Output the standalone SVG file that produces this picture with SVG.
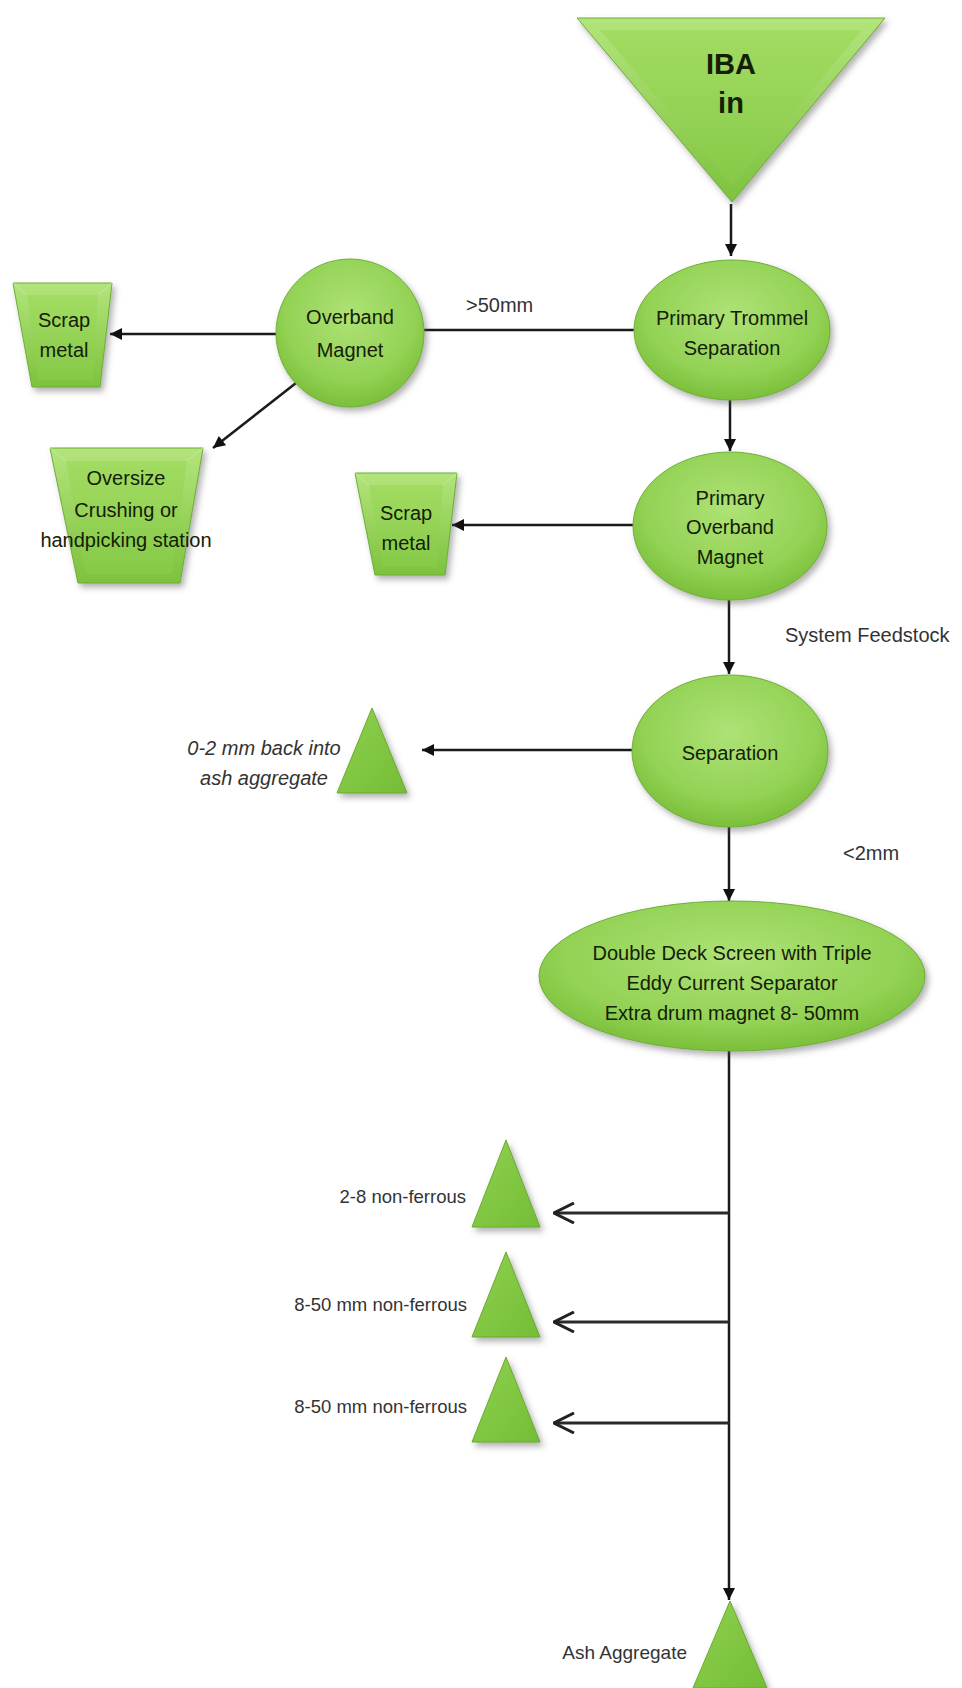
<svg xmlns="http://www.w3.org/2000/svg" width="962" height="1688" viewBox="0 0 962 1688">
<defs>
<linearGradient id="gLin" x1="0" y1="0" x2="0" y2="1">
<stop offset="0" stop-color="#b3e47c"/>
<stop offset="1" stop-color="#7dc23d"/>
</linearGradient>
<linearGradient id="gFace" x1="0" y1="0" x2="0" y2="1">
<stop offset="0" stop-color="#a2dc62"/>
<stop offset="1" stop-color="#86c948"/>
</linearGradient>
<radialGradient id="gRad" cx="0.5" cy="0.38" r="0.62">
<stop offset="0" stop-color="#aee276"/>
<stop offset="0.7" stop-color="#93d255"/>
<stop offset="1" stop-color="#7bbf3a"/>
</radialGradient>
<linearGradient id="gTri" x1="0" y1="0" x2="1" y2="1">
<stop offset="0" stop-color="#8fd14f"/>
<stop offset="1" stop-color="#74bd36"/>
</linearGradient>
<filter id="sh" x="-20%" y="-20%" width="150%" height="150%">
<feDropShadow dx="3" dy="4" stdDeviation="3" flood-color="#555" flood-opacity="0.45"/>
</filter>
<marker id="aF" viewBox="0 0 10 10" refX="10" refY="5" markerWidth="14" markerHeight="12" markerUnits="userSpaceOnUse" orient="auto">
<path d="M0,0 L10,5 L0,10 z" fill="#111"/>
</marker>
<marker id="aO" viewBox="0 0 22 22" refX="21" refY="11" markerWidth="22" markerHeight="22" markerUnits="userSpaceOnUse" orient="auto">
<path d="M1,1 L21,11 L1,21" fill="none" stroke="#222" stroke-width="3"/>
</marker>
<style>
.shape{fill:url(#gLin);stroke:#6fae36;stroke-width:1;filter:url(#sh)}
.ell{fill:url(#gRad);stroke:#6fae36;stroke-width:1;filter:url(#sh)}
.tri{fill:url(#gTri);stroke:#6aaa30;stroke-width:1;filter:url(#sh)}
.face{fill:url(#gFace);stroke:none}
.facet{stroke:#c6ef9c;stroke-width:1;fill:none;opacity:0.8}
.nt{font-family:"Liberation Sans",Arial,sans-serif;font-size:20px;fill:#142006;text-anchor:middle}
.lb{font-family:"Liberation Sans",Arial,sans-serif;font-size:20px;fill:#333}
.sm{font-family:"Liberation Sans",Arial,sans-serif;font-size:18.5px;fill:#333;text-anchor:end}
.cn{stroke:#1a1a1a;stroke-width:2.5;fill:none}
.cnF{stroke:#1a1a1a;stroke-width:2.5;fill:none;marker-end:url(#aF)}
.cnO{stroke:#2a2a2a;stroke-width:3;fill:none;marker-end:url(#aO)}
</style>
</defs>
<rect width="962" height="1688" fill="#ffffff"/>

<g id="connectors">
<line class="cnF" x1="731" y1="204" x2="731" y2="256"/>
<line class="cn" x1="634" y1="330" x2="424" y2="330"/>
<text class="lb" x="466" y="312">&gt;50mm</text>
<line class="cnF" x1="276" y1="334" x2="110" y2="334"/>
<line class="cnF" x1="296" y1="383" x2="213" y2="448"/>
<line class="cnF" x1="730" y1="400" x2="730" y2="451"/>
<line class="cnF" x1="634" y1="525" x2="452" y2="525"/>
<line class="cnF" x1="729" y1="600" x2="729" y2="674"/>
<text class="lb" x="785" y="642">System Feedstock</text>
<line class="cnF" x1="632" y1="750" x2="422" y2="750"/>
<line class="cnF" x1="729" y1="827" x2="729" y2="901"/>
<text class="lb" x="843" y="860">&lt;2mm</text>
<line class="cnF" x1="729" y1="1051" x2="729" y2="1600"/>
<line class="cnO" x1="729" y1="1213" x2="554" y2="1213"/>
<line class="cnO" x1="729" y1="1322" x2="554" y2="1322"/>
<line class="cnO" x1="729" y1="1423" x2="554" y2="1423"/>
</g>

<g id="iba-in">
<polygon class="shape" points="577,18 885,18 732,202"/>
<polygon class="face" points="600,30 862,30 732,186"/>
<text class="nt" x="731" y="74" style="font-weight:bold;font-size:29px">IBA</text>
<text class="nt" x="731" y="113" style="font-weight:bold;font-size:29px">in</text>
</g>

<g id="primary-trommel">
<ellipse class="ell" cx="732" cy="330" rx="98" ry="70"/>
<text class="nt" x="732" y="325">Primary Trommel</text>
<text class="nt" x="732" y="355">Separation</text>
</g>

<g id="overband-magnet">
<circle class="ell" cx="350" cy="333" r="74"/>
<text class="nt" x="350" y="324">Overband</text>
<text class="nt" x="350" y="357">Magnet</text>
</g>

<g id="scrap-metal-1">
<polygon class="shape" points="13,283 112,283 100,387 32,387"/>
<polygon class="face" points="27,295 98,295 93,380 39,380"/>
<path class="facet" d="M13,283 L27,295 M112,283 L98,295"/>
<text class="nt" x="64" y="327">Scrap</text>
<text class="nt" x="64" y="357">metal</text>
</g>

<g id="oversize">
<polygon class="shape" points="50,448 203,448 180,583 78,583"/>
<polygon class="face" points="66,461 187,461 172,574 86,574"/>
<path class="facet" d="M50,448 L66,461 M203,448 L187,461"/>
<text class="nt" x="126" y="485">Oversize</text>
<text class="nt" x="126" y="517">Crushing or</text>
<text class="nt" x="126" y="547">handpicking station</text>
</g>

<g id="scrap-metal-2">
<polygon class="shape" points="355,473 457,473 445,575 375,575"/>
<polygon class="face" points="369,485 443,485 437,567 383,567"/>
<path class="facet" d="M355,473 L369,485 M457,473 L443,485"/>
<text class="nt" x="406" y="520">Scrap</text>
<text class="nt" x="406" y="550">metal</text>
</g>

<g id="primary-overband-magnet">
<ellipse class="ell" cx="730" cy="526" rx="97" ry="74"/>
<text class="nt" x="730" y="505">Primary</text>
<text class="nt" x="730" y="534">Overband</text>
<text class="nt" x="730" y="564">Magnet</text>
</g>

<g id="separation">
<ellipse class="ell" cx="730" cy="751" rx="98" ry="76"/>
<text class="nt" x="730" y="760">Separation</text>
</g>

<g id="fines-0-2">
<polygon class="tri" points="372,708 407,793 337,793"/>
<text class="lb" x="264" y="755" text-anchor="middle" font-style="italic">0-2 mm back into</text>
<text class="lb" x="264" y="785" text-anchor="middle" font-style="italic">ash aggregate</text>
</g>

<g id="double-deck">
<ellipse class="ell" cx="732" cy="976" rx="193" ry="75"/>
<text class="nt" x="732" y="960">Double Deck Screen with Triple</text>
<text class="nt" x="732" y="990">Eddy Current Separator</text>
<text class="nt" x="732" y="1020">Extra drum magnet 8- 50mm</text>
</g>

<g id="nf-2-8">
<polygon class="tri" points="506,1140 540,1227 472,1227"/>
<text class="sm" x="466" y="1203">2-8 non-ferrous</text>
</g>

<g id="nf-8-50-a">
<polygon class="tri" points="506,1252 540,1337 472,1337"/>
<text class="sm" x="467" y="1311">8-50 mm non-ferrous</text>
</g>

<g id="nf-8-50-b">
<polygon class="tri" points="506,1357 540,1442 472,1442"/>
<text class="sm" x="467" y="1413">8-50 mm non-ferrous</text>
</g>

<g id="ash-aggregate">
<polygon class="tri" points="730,1601 767,1688 693,1688"/>
<text class="sm" x="687" y="1659" style="font-size:19px">Ash Aggregate</text>
</g>
</svg>
